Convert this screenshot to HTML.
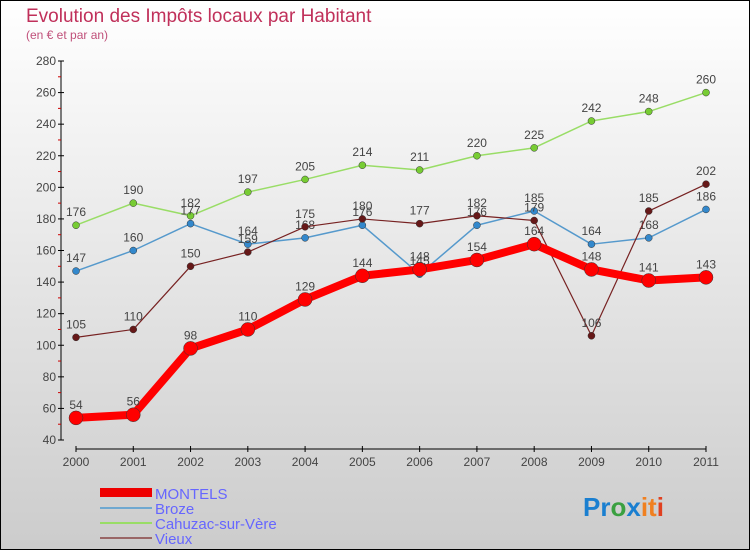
<!DOCTYPE html>
<html><head><meta charset="utf-8"><style>
body{margin:0}
#c{width:750px;height:550px;position:relative;box-sizing:border-box;border:1px solid #000;background:linear-gradient(#ffffff,#cccccc);font-family:"Liberation Sans",sans-serif;overflow:hidden}
</style></head><body>
<div id="c">
<svg id="s" width="750" height="550" style="position:absolute;left:-1px;top:-1px">
<text x="26" y="22" font-size="19" fill="#c0305a">Evolution des Impôts locaux par Habitant</text>
<text x="26" y="39" font-size="12" fill="#c0507a">(en € et par an)</text>
<g id="ax"></g><g id="lines"></g>
<g>
<rect x="100" y="488" width="52" height="9" fill="#e00"/>
<text x="155" y="499" font-size="15" fill="#6666ff">MONTELS</text>
<rect x="100" y="507" width="52" height="2" fill="#6fa8d0"/>
<text x="155" y="514" font-size="15" fill="#6666ff">Broze</text>
<rect x="100" y="522" width="52" height="2" fill="#99dd66"/>
<text x="155" y="529" font-size="15" fill="#6666ff">Cahuzac-sur-Vère</text>
<rect x="100" y="537" width="52" height="2" fill="#996666"/>
<text x="155" y="544" font-size="15" fill="#6666ff">Vieux</text>
</g>
<text x="583" y="516" font-size="26" font-weight="bold"><tspan fill="#1a7fd0">Pr</tspan><tspan fill="#3aa040">o</tspan><tspan fill="#1a7fd0">x</tspan><tspan fill="#f08020">it</tspan><tspan fill="#e04020">i</tspan></text>
</svg>
</div>
<script>
const years=["2000","2001","2002","2003","2004","2005","2006","2007","2008","2009","2010","2011"];
const montels=[54,56,98,110,129,144,148,154,164,148,141,143];
const broze=[147,160,177,164,168,176,145,176,185,164,168,186];
const cahuzac=[176,190,182,197,205,214,211,220,225,242,248,260];
const vieux=[105,110,150,159,175,180,177,182,179,106,185,202];
const yTicks=[40,60,80,100,120,140,160,180,200,220,240,260,280];
const NS="http://www.w3.org/2000/svg";
const X=i=>76+i*(706-76)/(years.length-1);
const Y=v=>440-(v-40)*(440-61)/240;
function mk(t,a,p){const e=document.createElementNS(NS,t);for(const k in a)e.setAttribute(k,a[k]);p.appendChild(e);return e;}
const ax=document.getElementById('ax');
let l=mk('line',{x1:61,y1:Y(280),x2:61,y2:Y(40),stroke:'#000'},ax);


l=mk('line',{x1:76,y1:449,x2:706,y2:449,stroke:'#000'},ax);


yTicks.forEach((v,i)=>{
 const y=Y(v);
 mk('line',{x1:58,y1:y,x2:64,y2:y,stroke:'#000'},ax);
 if(i<yTicks.length-1)mk('line',{x1:58,y1:Y(v+10),x2:61,y2:Y(v+10),stroke:'#c00'},ax);
 const t=mk('text',{x:56,y:y+4,'font-size':12,fill:'#444','text-anchor':'end'},ax);t.textContent=v;
 
 
});
years.forEach((yr,i)=>{
 mk('line',{x1:X(i),y1:446,x2:X(i),y2:452,stroke:'#000'},ax);
 const t=mk('text',{x:X(i),y:466,'font-size':12,fill:'#444','text-anchor':'middle'},ax);t.textContent=yr;
 
 
});
const lines=document.getElementById('lines');
function series(d,col,w,r,dot,name){
 const g=mk('g',{},lines);
 
 
 const p=mk('polyline',{points:d.map((v,i)=>X(i)+','+Y(v)).join(' '),fill:'none',stroke:col,'stroke-width':w,'stroke-linejoin':'round'},g);
 
 
 d.forEach((v,i)=>{
  const c=mk('circle',{cx:X(i),cy:Y(v),r:r,fill:dot,stroke:'#333','stroke-width':0.5},g);
  
  
  const t=mk('text',{x:X(i),y:Y(v)-9,'font-size':12,fill:'#444','text-anchor':'middle'},g);t.textContent=v;
  
  
 });
}
series(cahuzac,'#99dd66',1.5,3.5,'#77cc33','cahuzac');
series(broze,'#5599cc',1.5,3.5,'#3388cc','broze');
series(vieux,'#772222',1.2,3.5,'#661818','vieux');
series(montels,'#ff0000',8,7,'#ff0000','montels');
</script>
</body></html>
